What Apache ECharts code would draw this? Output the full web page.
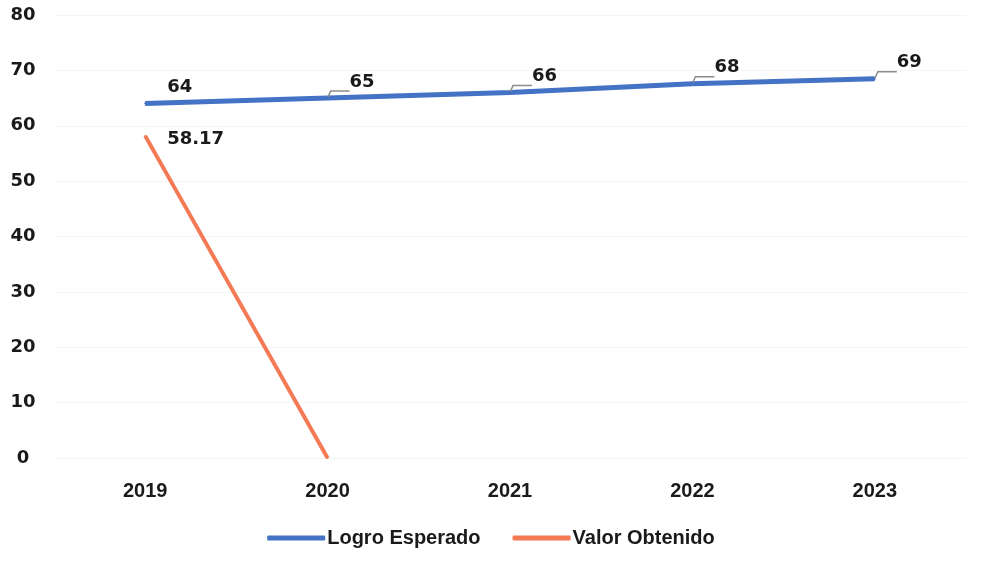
<!DOCTYPE html>
<html>
<head>
<meta charset="utf-8">
<script src="https://cdn.jsdelivr.net/npm/echarts@6/dist/echarts.min.js"></script>
<style>
  html, body { margin: 0; padding: 0; background: #fff; }
  #main { width: 982px; height: 573px; }
</style>
</head>
<body>
<div id="main"></div>
<script>
const years = ['2019', '2020', '2021', '2022', '2023']
const logroEsperado = [64, 65, 66, 67.6, 68.5]
const valorObtenido = [58.17, 0, null, null, null]

let myChart = echarts.init(document.getElementById('main'))

const numFont = 'DejaVu Sans'
const txtFont = 'Liberation Sans'

myChart.setOption({
  animation: false,
  legend: {
    data: ['Logro Esperado', 'Valor Obtenido'],
    bottom: 20,
    left: 'center',
    icon: 'roundRect',
    itemWidth: 58,
    itemHeight: 5,
    itemGap: 32,
    textStyle: {
      fontFamily: txtFont,
      fontWeight: 'bold',
      fontSize: 20,
      color: '#1a1a1a',
      padding: [0, 0, 0, -3]
    }
  },
  grid: {
    left: 54,
    right: 16,
    top: 15,
    bottom: 115
  },
  xAxis: {
    type: 'category',
    data: years,
    axisLine: { show: false },
    axisTick: { show: false },
    axisLabel: {
      margin: 23,
      fontFamily: txtFont,
      fontWeight: 'bold',
      fontSize: 20,
      color: '#1a1a1a'
    }
  },
  yAxis: {
    type: 'value',
    min: 0,
    max: 80,
    interval: 10,
    axisLabel: {
      margin: 31,
      align: 'center',
      fontFamily: numFont,
      fontWeight: 'bold',
      fontSize: 18,
      color: '#1a1a1a'
    },
    splitLine: { lineStyle: { color: '#f4f4f4', width: 1 } }
  },
  series: [
    {
      name: 'Logro Esperado',
      type: 'line',
      data: logroEsperado.map((v, i) => ({
        value: v,
        labelLine: { show: i > 0 }
      })),
      symbol: 'circle',
      symbolSize: 2,
      itemStyle: { color: '#4472C4' },
      lineStyle: { color: '#4472C4', width: 5 },
      label: {
        show: true,
        position: 'right',
        offset: [16, -16],
        formatter: p => Math.round(p.value),
        fontFamily: numFont,
        fontWeight: 'bold',
        fontSize: 18,
        color: '#1a1a1a'
      },
      labelLine: {
        show: true,
        length2: 19,
        minTurnAngle: 90,
        lineStyle: { color: '#8c8c8c', width: 1.5 }
      }
    },
    {
      name: 'Valor Obtenido',
      type: 'line',
      data: valorObtenido,
      symbol: 'circle',
      symbolSize: 2,
      itemStyle: { color: '#F47A56' },
      lineStyle: { color: '#F47A56', width: 4 },
      label: {
        show: true,
        position: 'right',
        offset: [16, 3],
        formatter: p => (p.value ? p.value.toFixed(2) : ''),
        fontFamily: numFont,
        fontWeight: 'bold',
        fontSize: 18,
        color: '#1a1a1a'
      }
    }
  ]
})
</script>
</body>
</html>
